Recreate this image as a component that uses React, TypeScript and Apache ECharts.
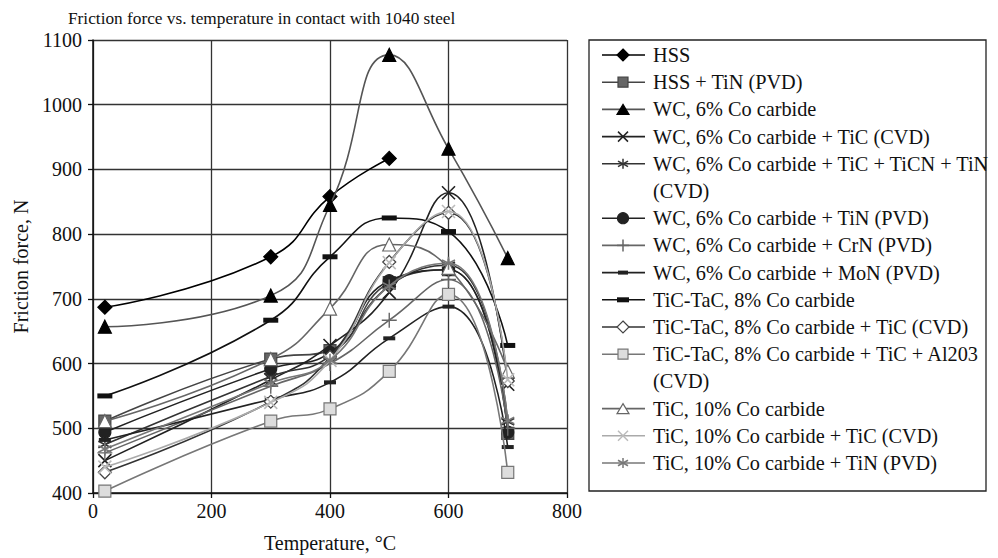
import React, { useEffect, useRef } from "react";
import * as echarts from "echarts";

// ---------------- data ----------------
const temperatures = [20, 300, 400, 500, 600, 700];
const xTicks = [0, 200, 400, 600, 800];
const yTicks = [400, 500, 600, 700, 800, 900, 1000, 1100];

const seriesNames = [
  "HSS",
  "HSS + TiN (PVD)",
  "WC, 6% Co carbide",
  "WC, 6% Co carbide + TiC (CVD)",
  "WC, 6% Co carbide + TiC + TiCN + TiN\n(CVD)",
  "WC, 6% Co carbide + TiN (PVD)",
  "WC, 6% Co carbide + CrN (PVD)",
  "WC, 6% Co carbide + MoN (PVD)",
  "TiC-TaC, 8% Co carbide",
  "TiC-TaC, 8% Co carbide + TiC (CVD)",
  "TiC-TaC, 8% Co carbide + TiC + Al203\n(CVD)",
  "TiC, 10% Co carbide",
  "TiC, 10% Co carbide + TiC (CVD)",
  "TiC, 10% Co carbide + TiN (PVD)",
];

const hss = [687, 765, 858, 917];
const hssTiN = [511, 607, 620, 725, 745, 492];
const wc6 = [657, 705, 845, 1077, 932, 763];
const wc6TiC = [450, 575, 628, 710, 864, 568];
const wc6TiCTiCNTiN = [475, 580, 612, 720, 752, 510];
const wc6TiN = [494, 592, 617, 728, 745, 494];
const wc6CrN = [462, 565, 600, 667, 730, 500];
const wc6MoN = [482, 545, 571, 639, 688, 471];
const tictac8 = [550, 667, 765, 825, 804, 628];
const tictac8TiC = [432, 541, 610, 757, 833, 573];
const tictac8TiCAl = [403, 511, 530, 588, 707, 432];
const tic10 = [511, 607, 685, 784, 748, 588];
const tic10TiC = [440, 540, 605, 756, 835, 575];
const tic10TiN = [468, 570, 605, 720, 755, 512];

const seriesValues = [
  hss, hssTiN, wc6, wc6TiC, wc6TiCTiCNTiN, wc6TiN, wc6CrN, wc6MoN,
  tictac8, tictac8TiC, tictac8TiCAl, tic10, tic10TiC, tic10TiN,
];

// ---------------- styles ----------------
type Kind = "diamond" | "rect" | "triangle" | "x" | "asterisk" | "circle" | "plus" | "dash" | "thickdash";
interface Sty { kind: Kind; line: string; fill: string; stroke: string; size: number }

const styles: Sty[] = [
  { kind: "diamond", line: "#000", fill: "#000", stroke: "#000", size: 14 },
  { kind: "rect", line: "#444", fill: "#666", stroke: "#444", size: 12 },
  { kind: "triangle", line: "#555", fill: "#000", stroke: "#000", size: 13 },
  { kind: "x", line: "#222", fill: "#222", stroke: "#222", size: 13 },
  { kind: "asterisk", line: "#333", fill: "#333", stroke: "#333", size: 13 },
  { kind: "circle", line: "#222", fill: "#222", stroke: "#222", size: 12 },
  { kind: "plus", line: "#666", fill: "#666", stroke: "#666", size: 15 },
  { kind: "dash", line: "#222", fill: "#222", stroke: "#222", size: 12 },
  { kind: "thickdash", line: "#111", fill: "#111", stroke: "#111", size: 15 },
  { kind: "diamond", line: "#333", fill: "#fff", stroke: "#444", size: 13 },
  { kind: "rect", line: "#777", fill: "#ddd", stroke: "#777", size: 12 },
  { kind: "triangle", line: "#666", fill: "#fff", stroke: "#666", size: 13 },
  { kind: "x", line: "#aaa", fill: "#bbb", stroke: "#bbb", size: 13 },
  { kind: "asterisk", line: "#777", fill: "#777", stroke: "#777", size: 13 },
];

const FONT = "Liberation Serif";

function seriesSymbol(s: Sty): { symbol: string; symbolSize: number | number[]; itemStyle: any } {
  switch (s.kind) {
    case "x":
      return { symbol: "path://M0,0L10,10M10,0L0,10", symbolSize: s.size, itemStyle: { color: s.fill, borderColor: s.stroke, borderWidth: 1.6 } };
    case "asterisk":
      return { symbol: "path://M5,0L5,10M0.7,2.5L9.3,7.5M0.7,7.5L9.3,2.5", symbolSize: s.size, itemStyle: { color: s.fill, borderColor: s.stroke, borderWidth: 1.6 } };
    case "plus":
      return { symbol: "path://M5,0L5,10M0,5L10,5", symbolSize: s.size, itemStyle: { color: s.fill, borderColor: s.stroke, borderWidth: 1.4 } };
    case "dash":
      return { symbol: "rect", symbolSize: [s.size, 4], itemStyle: { color: s.fill, borderWidth: 0 } };
    case "thickdash":
      return { symbol: "rect", symbolSize: [s.size, 5], itemStyle: { color: s.fill, borderWidth: 0 } };
    default:
      return { symbol: s.kind, symbolSize: s.size, itemStyle: { color: s.fill, borderColor: s.stroke, borderWidth: 1.2 } };
  }
}

function legendSymbol(s: Sty, cx: number, cy: number): any[] {
  const r = 5;
  const fillStyle = { fill: s.fill, stroke: s.stroke, lineWidth: 1.2 };
  const strokeStyle = { stroke: s.stroke, lineWidth: 1.5 };
  const ln = (x1: number, y1: number, x2: number, y2: number) => ({
    type: "line", shape: { x1, y1, x2, y2 }, style: strokeStyle, silent: true,
  });
  switch (s.kind) {
    case "diamond":
      return [{ type: "polygon", shape: { points: [[cx, cy - r - 1], [cx + r + 1, cy], [cx, cy + r + 1], [cx - r - 1, cy]] }, style: fillStyle }];
    case "rect":
      return [{ type: "rect", shape: { x: cx - r, y: cy - r, width: 2 * r, height: 2 * r }, style: fillStyle }];
    case "triangle":
      return [{ type: "polygon", shape: { points: [[cx, cy - r], [cx + r + 1, cy + r], [cx - r - 1, cy + r]] }, style: fillStyle }];
    case "circle":
      return [{ type: "circle", shape: { cx, cy, r: r + 0.5 }, style: fillStyle }];
    case "x":
      return [ln(cx - r, cy - r, cx + r, cy + r), ln(cx + r, cy - r, cx - r, cy + r)];
    case "asterisk":
      return [ln(cx, cy - r, cx, cy + r), ln(cx - r, cy - r * 0.55, cx + r, cy + r * 0.55), ln(cx - r, cy + r * 0.55, cx + r, cy - r * 0.55)];
    case "plus":
      return [ln(cx, cy - r - 1, cx, cy + r + 1), ln(cx - r - 1, cy, cx + r + 1, cy)];
    case "dash":
      return [{ type: "rect", shape: { x: cx - 5, y: cy - 2, width: 10, height: 4 }, style: { fill: s.fill } }];
    case "thickdash":
      return [{ type: "rect", shape: { x: cx - 6, y: cy - 2.5, width: 12, height: 5 }, style: { fill: s.fill } }];
  }
  return [];
}

function buildLegend(): any[] {
  const els: any[] = [];
  els.push({
    type: "rect",
    shape: { x: 589, y: 40, width: 397, height: 451 },
    style: { fill: "#fff", stroke: "#222", lineWidth: 1.3 },
    z: 10,
  });
  const step = 27.2;
  let row = 0;
  seriesNames.forEach((name, i) => {
    const cy = 55 + row * step;
    const s = styles[i];
    els.push({ type: "line", shape: { x1: 602, y1: cy, x2: 645, y2: cy }, style: { stroke: s.line, lineWidth: 1.6 }, z: 11 });
    legendSymbol(s, 623, cy).forEach((e) => els.push({ ...e, z: 12 }));
    els.push({
      type: "text",
      x: 653,
      y: cy - step / 2,
      z: 12,
      style: {
        text: name,
        fontFamily: FONT,
        fontSize: 20.3,
        lineHeight: step,
        fill: "#111",
        verticalAlign: "top",
        align: "left",
      },
    });
    row += name.split("\n").length;
  });
  return els;
}

export default function App() {
  const ref = useRef<HTMLDivElement>(null);

  useEffect(() => {
    if (!ref.current) return;
    const chart = echarts.init(ref.current, undefined, { renderer: "svg" });

    const series = seriesNames.map((name, i) => {
      const s = styles[i];
      const sym = seriesSymbol(s);
      return {
        name,
        type: "line",
        smooth: 0.5,
        data: seriesValues[i].map((v, k) => [temperatures[k], v]),
        showSymbol: true,
        symbol: sym.symbol,
        symbolSize: sym.symbolSize,
        itemStyle: sym.itemStyle,
        lineStyle: { color: s.line, width: 1.6 },
        z: 3 + i * 0.01,
      };
    });

    chart.setOption({
      animation: false,
      backgroundColor: "#fff",
      title: {
        text: "Friction force vs. temperature in contact with 1040 steel",
        left: 63,
        top: 5,
        textStyle: { fontFamily: FONT, fontSize: 17.3, fontWeight: "normal", color: "#111" },
      },
      grid: { left: 93, right: 431, top: 40, bottom: 64 },
      xAxis: {
        type: "value",
        min: xTicks[0],
        max: xTicks[xTicks.length - 1],
        interval: 200,
        name: "Temperature, °C",
        nameLocation: "middle",
        nameGap: 40,
        nameTextStyle: { fontFamily: FONT, fontSize: 20, color: "#111" },
        axisLine: { lineStyle: { color: "#111", width: 1.5 } },
        axisTick: { show: true, length: 5, lineStyle: { color: "#111", width: 1.3 } },
        axisLabel: { fontFamily: FONT, fontSize: 20, color: "#111", margin: 8, formatter: (v: number) => String(v) },
        splitLine: { show: true, lineStyle: { color: "#333", width: 1.3 } },
      },
      yAxis: {
        type: "value",
        min: yTicks[0],
        max: yTicks[yTicks.length - 1],
        interval: 100,
        name: "Friction force, N",
        nameLocation: "middle",
        nameGap: 62,
        nameTextStyle: { fontFamily: FONT, fontSize: 20, color: "#111" },
        axisLine: { show: true, lineStyle: { color: "#111", width: 1.5 } },
        axisTick: { show: true, length: 5, lineStyle: { color: "#111", width: 1.3 } },
        axisLabel: { fontFamily: FONT, fontSize: 20, color: "#111", margin: 11, formatter: (v: number) => String(v) },
        splitLine: { show: true, lineStyle: { color: "#333", width: 1.3 } },
      },
      graphic: buildLegend(),
      series,
    });

    return () => chart.dispose();
  }, []);

  return (
    <div
      ref={ref}
      style={{ position: "fixed", left: 0, top: 0, width: 998, height: 558, background: "#fff" }}
    />
  );
}
